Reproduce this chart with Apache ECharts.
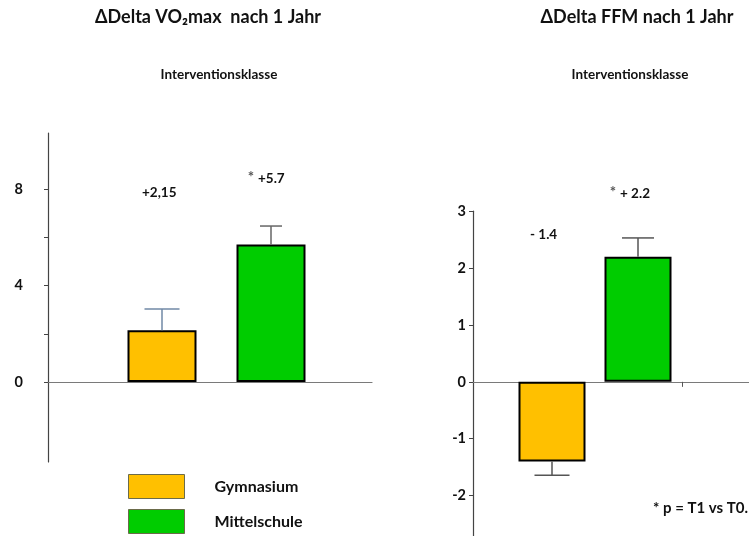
<!DOCTYPE html>
<html>
<head>
<meta charset="utf-8">
<script src="https://cdn.jsdelivr.net/npm/echarts@6/dist/echarts.min.js"></script>
<style>
  html, body { margin: 0; padding: 0; background: #fff; }
  #chart { width: 749px; height: 536px; }
</style>
</head>
<body>
<div id="chart"></div>
<script>
// School types compared in both panels
const groups = ['Gymnasium', 'Mittelschule'];
const groupColors = ['#FFC000', '#00CC00'];

// Change in VO2max after one year (mean, SE)
const vo2Values = [2.15, 5.7];
const vo2Err = [0.88, 0.77];
const vo2Labels = ['+2,15', '+5.7'];
const vo2Sig = [false, true];
const vo2TickValues = [0, 2, 4, 6, 8];
const vo2TickLabels = [0, 4, 8];

// Change in fat-free mass after one year (mean, SE)
const ffmValues = [-1.4, 2.2];
const ffmErr = [0.24, 0.33];
const ffmLabels = ['- 1.4', '+ 2.2'];
const ffmSig = [false, true];
const ffmTickValues = [-2, -1, 0, 1, 2, 3];
const ffmTickLabels = [-2, -1, 0, 1, 2, 3];

const FONT = 'Lato, "Open Sans", sans-serif';

const chart = echarts.init(document.getElementById('chart'));

// Each panel: an axis grid (axes only) and a bar grid (bars + error bars) sharing one y scale
const vo2Range = { min: -3.32, max: 10.33 };
const ffmRange = { min: -2.71, max: 3 };

function makeGrid(top, bottom, left, right) { return { left, right, top, bottom, containLabel: false }; }

const grids = [
  makeGrid(133, 74, 48, 377),      // 0: VO2 axes
  makeGrid(133, 74, 107.5, 423.5), // 1: VO2 bars
  makeGrid(211.2, -2, 473, 0),     // 2: FFM axes
  makeGrid(211.2, -2, 509, 68)     // 3: FFM bars
];

const hiddenCat = (gi) => ({
  type: 'category', gridIndex: gi, data: groups,
  axisLine: { show: false }, axisTick: { show: false }, axisLabel: { show: false }
});

const xAxes = [
  { type: 'value', gridIndex: 0, min: 0, max: 1, splitLine: { show: false },
    axisLine: { show: true, onZero: true, lineStyle: { color: '#7a7a7a', width: 1.2 } },
    axisTick: { show: false }, axisLabel: { show: false } },
  hiddenCat(1),
  { type: 'value', gridIndex: 2, min: 0, max: 1, splitLine: { show: false },
    axisLine: { show: true, onZero: true, lineStyle: { color: '#7a7a7a', width: 1.2 } },
    // category divider tick below the zero line
    axisTick: { show: true, inside: false, length: 5, customValues: [0.757], lineStyle: { color: '#555' } },
    axisLabel: { show: false } },
  hiddenCat(3)
];

function valueAxis(gi, range, ticks, labels, margin, show) {
  return {
    type: 'value', gridIndex: gi, min: range.min, max: range.max,
    splitLine: { show: false },
    axisLine: { show: show, lineStyle: { color: '#444', width: 1.2 } },
    axisTick: { show: show, length: 4, customValues: ticks, lineStyle: { color: '#444' } },
    axisLabel: { show: show, customValues: labels, margin: margin,
      fontFamily: FONT, fontWeight: 'bold', fontSize: 14.5, color: '#111' }
  };
}

const yAxes = [
  valueAxis(0, vo2Range, vo2TickValues, vo2TickLabels, 25, true),
  valueAxis(1, vo2Range, vo2TickValues, vo2TickLabels, 25, false),
  valueAxis(2, ffmRange, ffmTickValues, ffmTickLabels, 7, true),
  valueAxis(3, ffmRange, ffmTickValues, ffmTickLabels, 7, false)
];

function barSeries(name, idx, values, gi, width) {
  return {
    name, type: 'bar', xAxisIndex: gi, yAxisIndex: gi, stack: 'p' + gi,
    barWidth: width,
    data: values.map((v, i) => (i === idx ? v : '-')),
    itemStyle: { color: groupColors[idx], borderColor: '#000', borderWidth: 2 },
    emphasis: { disabled: true }, z: 2
  };
}

function errorSeries(gi, values, errs, caps, colors) {
  return {
    type: 'custom', xAxisIndex: gi, yAxisIndex: gi, z: 3,
    data: values.map((v, i) => [i, v, errs[i]]),
    renderItem: function (params, api) {
      const i = api.value(0), v = api.value(1), e = api.value(2);
      const end = v >= 0 ? v + e : v - e;
      const p0 = api.coord([i, v]);
      const p1 = api.coord([i, end]);
      const half = caps[i] / 2;
      const style = { stroke: colors[i], lineWidth: 1.5 };
      return {
        type: 'group',
        children: [
          { type: 'line', shape: { x1: p0[0], y1: p0[1], x2: p1[0], y2: p1[1] }, style },
          { type: 'line', shape: { x1: p1[0] - half, y1: p1[1], x2: p1[0] + half, y2: p1[1] }, style }
        ]
      };
    }
  };
}

const series = [
  barSeries('Gymnasium', 0, vo2Values, 1, 69),
  barSeries('Mittelschule', 1, vo2Values, 1, 70),
  errorSeries(1, vo2Values, vo2Err, [35, 22], ['#7088a6', '#666']),
  barSeries('Gymnasium', 0, ffmValues, 3, 67),
  barSeries('Mittelschule', 1, ffmValues, 3, 61),
  errorSeries(3, ffmValues, ffmErr, [35, 32], ['#555', '#555'])
];

function txt(x, y, text, size, align, color) {
  return {
    type: 'text', x, y,
    style: { text, fontFamily: FONT, fontWeight: 'bold', fontSize: size, fill: color || '#111',
      align: align || 'center', verticalAlign: 'middle' }
  };
}

// value annotation; significant changes get a small grey asterisk in front
function valueLabel(x, y, text, sig) {
  const out = [txt(x, y, text, 13.5, 'left')];
  if (sig) out.push(txt(x - 4, y - 2, '*', 15, 'right', '#555'));
  return out;
}

const graphics = [
  txt(208, 17, 'ΔDelta VO₂max  nach 1 Jahr', 18),
  txt(219, 75, 'Interventionsklasse', 13.5),
  txt(637, 17, 'ΔDelta FFM nach 1 Jahr', 18),
  txt(630, 75, 'Interventionsklasse', 13.5),
  ...valueLabel(142, 193, vo2Labels[0], vo2Sig[0]),
  ...valueLabel(258, 179, vo2Labels[1], vo2Sig[1]),
  ...valueLabel(530, 235, ffmLabels[0], ffmSig[0]),
  ...valueLabel(620, 194, ffmLabels[1], ffmSig[1]),
  txt(653, 508, '* p = T1 vs T0.', 15, 'left')
];

chart.setOption({
  animation: false,
  backgroundColor: '#fff',
  grid: grids,
  xAxis: xAxes,
  yAxis: yAxes,
  series,
  legend: {
    data: groups, orient: 'vertical', left: 128, top: 474,
    itemWidth: 56, itemHeight: 24, itemGap: 10, padding: 0,
    icon: 'rect', selectedMode: false,
    itemStyle: { borderColor: '#6b6b4a', borderWidth: 1 },
    textStyle: { fontFamily: FONT, fontWeight: 'bold', fontSize: 16, color: '#111', padding: [0, 0, 0, 25] }
  },
  graphic: graphics
});
</script>
</body>
</html>
